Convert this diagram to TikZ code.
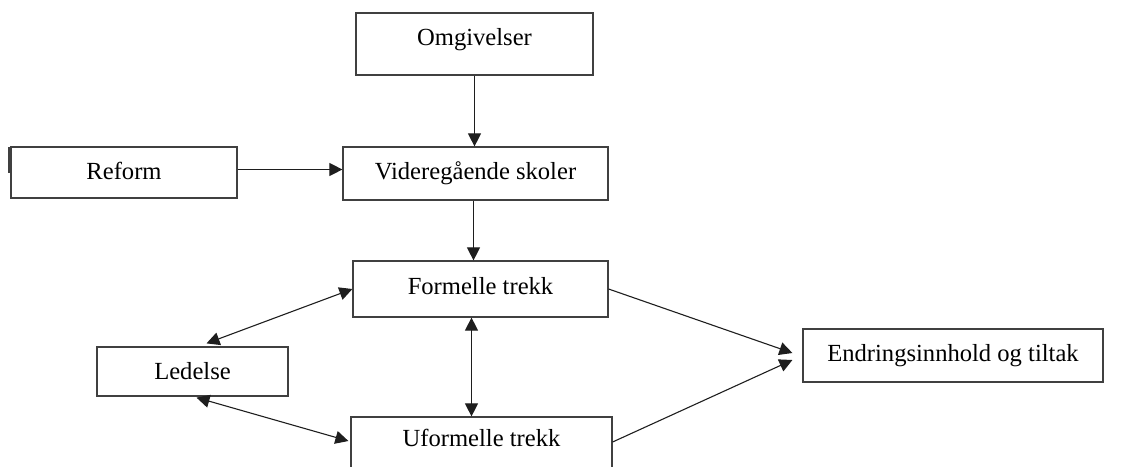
\documentclass[tikz,border=0pt]{standalone}
\usepackage{fontspec}
\setmainfont{Liberation Serif}
\usetikzlibrary{arrows.meta}
\definecolor{frame}{HTML}{404040}
\definecolor{ink}{HTML}{1E1E1E}

\begin{document}
\begin{tikzpicture}[x=0.5pt,y=-0.5pt,
  box/.style={draw=frame,line width=0.6pt,inner sep=0pt,font=\fontsize{12.3}{14}\selectfont},
  arr/.style={-{Triangle[length=6.5pt,width=6.5pt]},line width=0.55pt,color=ink},
  arrs/.style={{Triangle[length=6.5pt,width=6.5pt]}-{Triangle[length=6.5pt,width=6.5pt]},line width=0.55pt,color=ink}]
\clip (0,0) rectangle (1144,466);
\node[box,minimum width=118.5pt,minimum height=31pt,text height=16pt,text depth=15pt] (omg) at (474.5,44) {Omgivelser};
\node[box,minimum width=113pt,minimum height=25.5pt,text depth=2pt] (ref) at (124,172.5) {Reform};
\node[box,minimum width=132.5pt,minimum height=26.5pt] (vid) at (475.5,173.5) {Videregående skoler};
\node[box,minimum width=127.5pt,minimum height=28pt,text depth=3.5pt] (form) at (480.5,289) {Formelle trekk};
\node[box,minimum width=95.5pt,minimum height=24.5pt] (led) at (192.5,371.5) {Ledelse};
\node[box,minimum width=130.5pt,minimum height=27pt,text height=12pt,text depth=10pt] (uform) at (481.5,444) {Uformelle trekk};
\node[box,minimum width=150pt,minimum height=26.5pt] (end) at (953,355.5) {Endringsinnhold og tiltak};
\draw[frame,line width=0.8pt] (9,147) -- (9,173);
\draw[arr] (omg.south) -- (omg.south |- vid.north);
\draw[arr] ([yshift=1.5pt]ref.east) -- ([yshift=1.5pt]ref.east -| vid.west);
\draw[arr] ([xshift=-1pt]vid.south) -- ([xshift=-1pt]vid.south |- form.north);
\draw[arrs] ([xshift=-4.5pt]form.south) -- ([xshift=-4.5pt]form.south |- uform.north);
\draw[arrs] ([xshift=7pt,yshift=1.5pt]led.north) -- (form.west);
\draw[arrs] ([xshift=2pt,yshift=-0.5pt]led.south) -- ([xshift=-1pt,yshift=1.5pt]uform.west);
\draw[arr] (form.east) -- ([xshift=-5pt,yshift=1.25pt]end.west);
\draw[arr] ([yshift=1pt]uform.east) -- ([xshift=-5pt,yshift=-2.25pt]end.west);
\end{tikzpicture}
\end{document}
